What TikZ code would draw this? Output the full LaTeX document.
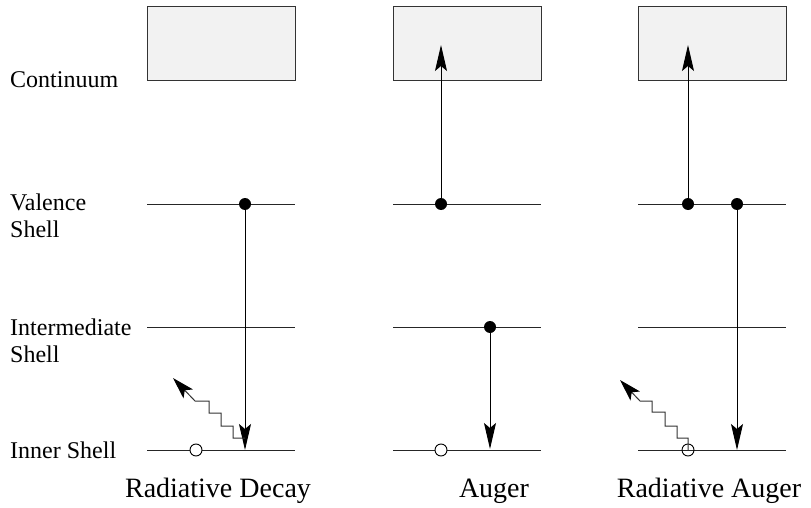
\documentclass[tikz,border=0pt]{standalone}
\usepackage{fontspec}
\setmainfont{Liberation Serif}
\usetikzlibrary{arrows.meta}
\begin{document}
\begin{tikzpicture}[x=1pt,y=-1pt,
 level/.style={line width=1pt, draw=black!85},
 contbox/.style={draw=black!80, line width=1.3pt, fill=black!5, inner sep=0pt, minimum width=148pt, minimum height=74pt, anchor=north west},
 edot/.style={circle, fill=black, inner sep=0pt, minimum size=12pt},
 hole/.style={circle, draw=black, line width=0.9pt, fill=white, inner sep=0pt, minimum size=12pt},
 openhole/.style={circle, draw=black, line width=0.9pt, inner sep=0pt, minimum size=12pt},
 trans/.style={line width=1pt, -{Stealth[length=26pt,width=12pt,inset=5pt]}},
 photon/.style={line width=1pt, draw=black!80, -{Stealth[length=22pt,width=13pt,inset=5pt,color=black]}},
 lab/.style={anchor=base west, inner sep=0pt, font=\fontsize{24}{27}\selectfont},
 title/.style={anchor=base, inner sep=0pt, font=\fontsize{28}{32}\selectfont}]
\useasboundingbox (0,0) rectangle (811,508);

% continuum boxes
\node[contbox] (boxA) at (147,6) {};
\node[contbox] (boxB) at (393,6) {};
\node[contbox] (boxC) at (638,6) {};

% energy levels
\foreach \x in {147,393,638}{
  \draw[level] (\x,204) -- ++(148,0);
  \draw[level] (\x,327) -- ++(148,0);
  \draw[level] (\x,450) -- ++(148,0);
}

% left labels
\node[lab] (lcont) at (10,88) {Continuum};
\node[lab] (lval1) at (10,210) {Valence};
\node[lab] (lval2) at (10,237) {Shell};
\node[lab] (lint1) at (10,335) {Intermediate};
\node[lab] (lint2) at (10,362) {Shell};
\node[lab] (linn) at (10,458) {Inner Shell};

% bottom titles
\node[title] (tA) at (218,497) {Radiative Decay};
\node[title] (tB) at (494,497) {Auger};
\node[title] (tC) at (709,497) {Radiative Auger};

% ---- Radiative decay ----
\node[edot] (dA) at (245,204) {};
\coordinate (eA) at (245,450);
\draw[trans] (dA) -- (eA);
\node[hole] (hA) at (196,450) {};
\coordinate (pA) at (245,438);
\coordinate (phA) at (173,378);
\draw[photon] (pA) -- ++(-12,0) -- ++(0,-12) -- ++(-12,0) -- ++(0,-13)
  -- ++(-12,0) -- ++(0,-12) -- ++(-14,0) -- (phA);

% ---- Auger ----
\node[edot] (dB1) at (441,204) {};
\coordinate (eB1) at (441,45);
\draw[trans] (dB1) -- (eB1);
\node[edot] (dB2) at (490,327) {};
\coordinate (eB2) at (490,449);
\draw[trans] (dB2) -- (eB2);
\node[hole] (hB) at (441,450) {};

% ---- Radiative Auger ----
\node[edot] (dC1) at (688,204) {};
\coordinate (eC1) at (688,45);
\draw[trans] (dC1) -- (eC1);
\node[edot] (dC2) at (737,204) {};
\coordinate (eC2) at (737,450);
\draw[trans] (dC2) -- (eC2);
\node[openhole] (hC) at (688,450) {};
\coordinate (phC) at (620,380);
\draw[photon] (hC.center) -- ++(0,-12) -- ++(-11,0) -- ++(0,-12) -- ++(-12,0)
  -- ++(0,-14) -- ++(-13,0) -- ++(0,-11) -- ++(-12,0) -- (phC);
\end{tikzpicture}
\end{document}
